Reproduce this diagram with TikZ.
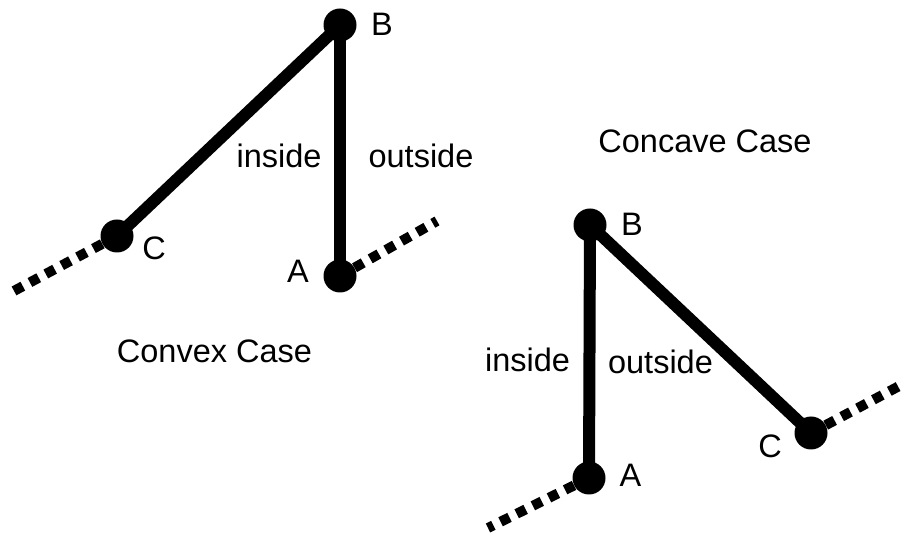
\documentclass[tikz,border=0pt]{standalone}
\usepackage{fontspec}
\setmainfont{Liberation Sans}
\usepackage{tikz}
\tikzstyle{pt}=[circle,fill=black,inner sep=0pt,minimum size=33pt]
\tikzstyle{arm}=[line width=12pt]
\tikzstyle{edgeline}=[line width=10pt,dash pattern=on 10pt off 8pt]
\tikzstyle{lbl}=[font=\fontsize{32.5}{36}\selectfont,inner sep=0pt,anchor=base]

\begin{document}
\begin{tikzpicture}[x=1pt,y=-1pt]
  \useasboundingbox (0,0) rectangle (903,534);
  % convex case
  \node (B1) [pt] at (340,25) {};
  \node (C1) [pt] at (117,236) {};
  \node (A1) [pt] at (340,276) {};
  \coordinate (C1e) at (12,292);
  \coordinate (A1e) at (437,221);
  \draw[edgeline] (C1) -- (C1e);
  \draw[edgeline] (A1) -- (A1e);
  \draw[arm] (B1.center) -- (C1.center);
  \draw[arm] (B1.center) -- (A1.center);
  \node (lB1) [lbl] at (382,36) {B};
  \node (lC1) [lbl] at (154,260) {C};
  \node (lA1) [lbl] at (298,283) {A};
  \node (in1) [lbl] at (279,168) {inside};
  \node (out1) [lbl] at (421,168) {outside};
  \node (cvx) [lbl] at (214.5,363) {Convex Case};
  % concave case
  \node (B2) [pt] at (590,225) {};
  \node (A2) [pt] at (589,478) {};
  \node (C2) [pt] at (811,433) {};
  \coordinate (A2e) at (488,528);
  \coordinate (C2e) at (903,384);
  \draw[edgeline] (A2) -- (A2e);
  \draw[edgeline] (C2) -- (C2e);
  \draw[arm] (B2.center) -- (A2.center);
  \draw[arm] (B2.center) -- (C2.center);
  \node (lB2) [lbl] at (632,236) {B};
  \node (lA2) [lbl] at (630.5,487) {A};
  \node (lC2) [lbl] at (770,458) {C};
  \node (in2) [lbl] at (527.5,372) {inside};
  \node (out2) [lbl] at (660.5,374) {outside};
  \node (ccv) [lbl] at (705,153) {Concave Case};
\end{tikzpicture}
\end{document}
